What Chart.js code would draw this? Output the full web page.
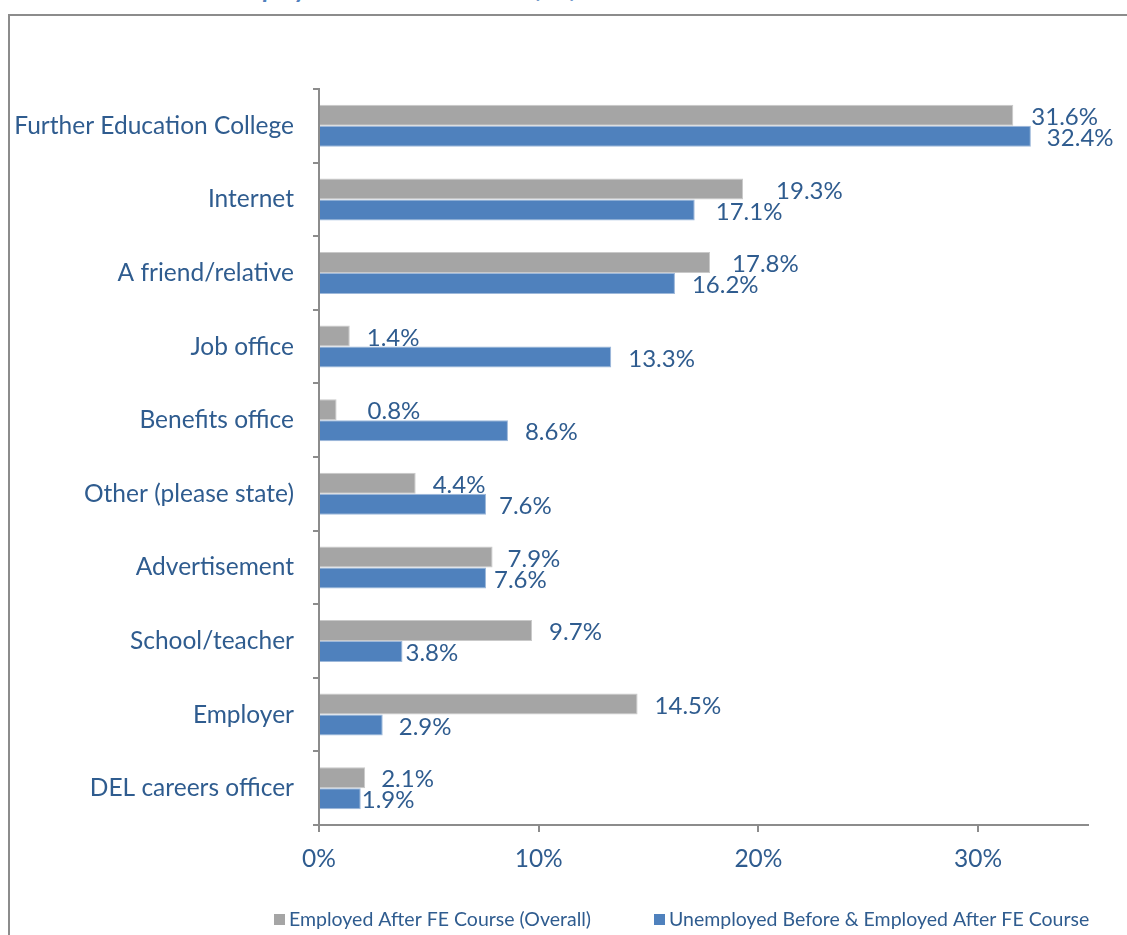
<!DOCTYPE html>
<html>
<head>
<meta charset="utf-8">
<script src="https://cdn.jsdelivr.net/npm/chart.js@4"></script>
<style>
  html, body { margin: 0; padding: 0; background: #fff; overflow: hidden; }
  #wrap { position: relative; width: 1127px; height: 935px; overflow: hidden; }
  #frame { position: absolute; left: 8px; top: 14px; width: 1200px; height: 1000px;
           border: 2px solid #8c8c8c; box-sizing: border-box; }
  #title { position: absolute; left: 230px; top: -27px; white-space: nowrap;
           font: italic bold 25px Lato, sans-serif; color: #4F81BD; }
  canvas { position: absolute; left: 0; top: 0; }
</style>
</head>
<body>
<div id="wrap">
  <div id="frame"></div>
  <div id="title">Employment Status: Source of Information about FE Course</div>
  <canvas id="chart" width="1127" height="935"></canvas>
</div>
<script>
// ── Data ──────────────────────────────────────────────────────────────
const categories = [
  'Further Education College', 'Internet', 'A friend/relative', 'Job office',
  'Benefits office', 'Other (please state)', 'Advertisement', 'School/teacher',
  'Employer', 'DEL careers officer'
];
const employedOverall = [31.6, 19.3, 17.8, 1.4, 0.8, 4.4, 7.9, 9.7, 14.5, 2.1];
const unemployedBefore = [32.4, 17.1, 16.2, 13.3, 8.6, 7.6, 7.6, 3.8, 2.9, 1.9];
const seriesNames = ['Employed After FE Course (Overall)', 'Unemployed Before & Employed After FE Course'];
const xTicks = [0, 10, 20, 30];

// ── Styling ───────────────────────────────────────────────────────────
const TEXT = '#2F5C8F';
const AXIS = '#8c8c8c';
const FONT = 'Lato, "Open Sans", sans-serif';
const LABEL_GAP = 17;
// hand-placed label nudges (px) per series, same order as categories
const labelNudge = [
  [1, 16, 5, 0, 14, 0, -2, 0, 0, -1],
  [-1, 4, 0, 0, 0, -4, -9, -14, -1, -16]
];

// value labels next to each bar end
const valueLabels = {
  id: 'valueLabels',
  afterDatasetsDraw(chart) {
    const { ctx } = chart;
    ctx.save();
    ctx.font = `24px ${FONT}`;
    ctx.fillStyle = TEXT;
    ctx.textBaseline = 'middle';
    ctx.textAlign = 'left';
    chart.data.datasets.forEach((ds, di) => {
      chart.getDatasetMeta(di).data.forEach((bar, i) => {
        const x = bar.x + LABEL_GAP + labelNudge[di][i];
        ctx.fillText(ds.data[i].toFixed(1) + '%', x, bar.y + 2);
      });
    });
    ctx.restore();
  }
};

// legend row along the bottom
const bottomLegend = {
  id: 'bottomLegend',
  afterDraw(chart) {
    const { ctx } = chart;
    const y = 920;
    const starts = [274, 654];
    ctx.save();
    ctx.font = `19.5px ${FONT}`;
    ctx.textBaseline = 'middle';
    chart.data.datasets.forEach((ds, di) => {
      const x = starts[di];
      ctx.fillStyle = ds.backgroundColor;
      ctx.fillRect(x, y - 6, 11, 11);
      ctx.fillStyle = TEXT;
      ctx.fillText(ds.label, x + 15, y);
    });
    ctx.restore();
  }
};

new Chart(document.getElementById('chart'), {
  type: 'bar',
  plugins: [valueLabels, bottomLegend],
  data: {
    labels: categories,
    datasets: [
      {
        label: seriesNames[0],
        data: employedOverall,
        backgroundColor: '#A5A5A5',
        borderColor: '#c9c9c9',
        borderWidth: 1
      },
      {
        label: seriesNames[1],
        data: unemployedBefore,
        backgroundColor: '#4F81BD',
        borderColor: '#9db8da',
        borderWidth: 1
      }
    ]
  },
  options: {
    indexAxis: 'y',
    responsive: false,
    animation: false,
    layout: { padding: { top: 89, right: 39, left: 0, bottom: 0 } },
    datasets: { bar: { categoryPercentage: 0.57, barPercentage: 1 } },
    plugins: {
      legend: { display: false },
      tooltip: { enabled: false }
    },
    scales: {
      y: {
        afterFit: (s) => { s.width = 319; },
        grid: { drawOnChartArea: false, tickLength: 6, color: AXIS, lineWidth: 2, offset: true },
        border: { color: AXIS, width: 2 },
        ticks: { color: TEXT, font: { family: FONT, size: 24.5 }, padding: 19 }
      },
      x: {
        min: 0,
        max: 35,
        afterFit: (s) => { s.height = 110; },
        afterBuildTicks: (s) => { s.ticks = xTicks.map(v => ({ value: v })); },
        grid: { drawOnChartArea: false, tickLength: 7, color: AXIS, lineWidth: 2 },
        border: { color: AXIS, width: 2 },
        ticks: {
          color: TEXT,
          font: { family: FONT, size: 24.5 },
          padding: 12,
          callback: (v) => v + '%'
        }
      }
    }
  }
});
</script>
</body>
</html>
